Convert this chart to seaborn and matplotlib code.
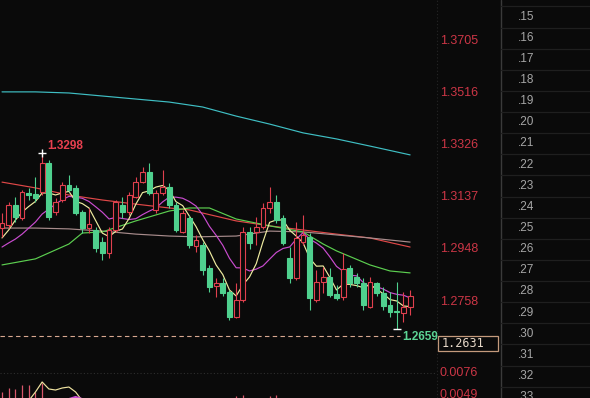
import numpy as np
import pandas as pd
import matplotlib
matplotlib.use("Agg")
import matplotlib.pyplot as plt
import matplotlib.transforms as mtrans
from matplotlib.patches import Rectangle
import seaborn as sns

# ---------------- data ----------------
open_ = [1.3025, 1.3036, 1.3109, 1.3062, 1.3152, 1.3149, 1.3156, 1.3262, 1.3083, 1.3127,
         1.3182, 1.3171, 1.3083, 1.3025, 1.3018, 1.2974, 1.2934, 1.3018, 1.3109, 1.3083,
         1.3138, 1.3192, 1.3229, 1.3091, 1.3152, 1.3174, 1.3109, 1.3011, 1.3062, 1.2960,
         1.2963, 1.2880, 1.2814, 1.2825, 1.2793, 1.2702, 1.2764, 1.3011, 1.3011, 1.3029,
         1.3098, 1.3120, 1.3062, 1.2916, 1.2843, 1.2974, 1.2993, 1.2764, 1.2829, 1.2847,
         1.2785, 1.2774, 1.2880, 1.2847, 1.2825, 1.2738, 1.2825, 1.2789, 1.2745, 1.2724,
         1.2716, 1.2738]
high = [1.3080, 1.3120, 1.3138, 1.3163, 1.3171, 1.3211, 1.3298, 1.3272, 1.3134, 1.3192,
        1.3218, 1.3182, 1.3091, 1.3098, 1.3029, 1.2993, 1.3029, 1.3127, 1.3138, 1.3156,
        1.3211, 1.3247, 1.3262, 1.3163, 1.3236, 1.3189, 1.3120, 1.3091, 1.3072, 1.3000,
        1.2974, 1.2891, 1.2843, 1.2843, 1.2800, 1.2825, 1.3029, 1.3029, 1.3065, 1.3116,
        1.3174, 1.3145, 1.3072, 1.2956, 1.3047, 1.3072, 1.3007, 1.2873, 1.2883, 1.2880,
        1.2818, 1.2934, 1.2891, 1.2862, 1.2843, 1.2847, 1.2829, 1.2811, 1.2793, 1.2829,
        1.2793, 1.2800]
low = [1.2993, 1.3025, 1.3047, 1.3054, 1.3127, 1.3120, 1.3145, 1.3054, 1.3072, 1.3120,
       1.3156, 1.3072, 1.3007, 1.3007, 1.2938, 1.2909, 1.2916, 1.3011, 1.3062, 1.3072,
       1.3134, 1.3189, 1.3145, 1.3080, 1.3145, 1.3098, 1.3011, 1.3007, 1.2953, 1.2938,
       1.2854, 1.2793, 1.2774, 1.2778, 1.2691, 1.2698, 1.2756, 1.2949, 1.2963, 1.3022,
       1.3080, 1.3043, 1.2963, 1.2825, 1.2836, 1.2963, 1.2727, 1.2756, 1.2789, 1.2774,
       1.2764, 1.2764, 1.2811, 1.2811, 1.2727, 1.2734, 1.2778, 1.2727, 1.2702, 1.2659,
       1.2684, 1.2709]
close = [1.3043, 1.3109, 1.3065, 1.3156, 1.3145, 1.3134, 1.3262, 1.3065, 1.3120, 1.3182,
         1.3163, 1.3080, 1.3025, 1.3040, 1.2953, 1.2934, 1.3018, 1.3120, 1.3083, 1.3145,
         1.3192, 1.3229, 1.3152, 1.3152, 1.3174, 1.3109, 1.3018, 1.3080, 1.2963, 1.2982,
         1.2873, 1.2811, 1.2825, 1.2789, 1.2702, 1.2764, 1.3011, 1.2971, 1.3029, 1.3098,
         1.3120, 1.3054, 1.2971, 1.2843, 1.2989, 1.3000, 1.2771, 1.2829, 1.2847, 1.2782,
         1.2771, 1.2876, 1.2825, 1.2825, 1.2745, 1.2829, 1.2789, 1.2742, 1.2720, 1.2720,
         1.2738, 1.2778]

# moving-average start values (window not yet filled on screen)
ma5_head = [1.2989, 1.3018, 1.3054, 1.3083]
ma10_head = [1.2956, 1.2971, 1.2985, 1.3003, 1.3025, 1.3047, 1.3076, 1.3094, 1.3112]

# long moving averages
cyan_idx = [0, 5, 10, 15, 20, 25, 30, 35, 40, 45, 50, 55, 61]
cyan_val = [1.3520, 1.3520, 1.3516, 1.3505, 1.3494, 1.3483, 1.3465, 1.3432, 1.3403,
            1.3371, 1.3349, 1.3323, 1.3291]
red_idx = [0, 5, 10, 15, 20, 25, 28, 35, 40, 45, 50, 55, 61]
red_val = [1.3192, 1.3171, 1.3145, 1.3127, 1.3112, 1.3098, 1.3091, 1.3051, 1.3033,
           1.3018, 1.3003, 1.2989, 1.2956]
pink_idx = [0, 5, 10, 15, 20, 25, 29, 35, 40, 45, 50, 55, 61]
pink_val = [1.3025, 1.3025, 1.3022, 1.3014, 1.3003, 1.2996, 1.2993, 1.2996, 1.3014,
            1.3011, 1.3000, 1.2989, 1.2974]
green_idx = [0, 5, 10, 12, 15, 20, 25, 28, 31, 35, 40, 45, 48, 50, 55, 58, 61]
green_val = [1.2891, 1.2913, 1.2967, 1.3007, 1.3011, 1.3051, 1.3087, 1.3098, 1.3098,
             1.3058, 1.3033, 1.3011, 1.2967, 1.2942, 1.2891, 1.2869, 1.2862]

price_ticks = [1.3705, 1.3516, 1.3326, 1.3137, 1.2948, 1.2758]
current_price = 1.2631

# lower indicator panel
ind_bar_idx = [0, 1, 2, 3, 4, 5, 6, 35, 36, 40, 41]
ind_bar_val = [0.00527, 0.00576, 0.00564, 0.00613, 0.00613, 0.00527, 0.00637,
               0.00480, 0.00490, 0.00480, 0.00485]
ind_yel_idx = [4, 5, 6, 7, 8, 9, 10, 11, 12]
ind_yel_val = [0.00420, 0.00527, 0.00650, 0.00564, 0.00551, 0.00576, 0.00588, 0.00527, 0.00420]
ind_mag_idx = [10, 11, 12]
ind_mag_val = [0.00440, 0.00466, 0.00440]
ind_ticks = [0.0076, 0.0049]

row_labels = [".15", ".16", ".17", ".18", ".19", ".20", ".21", ".22", ".23", ".24",
              ".25", ".26", ".27", ".28", ".29", ".30", ".31", ".32", ".33"]

# ---------------- style ----------------
BG = "#0a0a0a"
UP = "#e0404e"
DOWN = "#4fd08e"
sns.set_theme(style="dark", rc={"axes.facecolor": BG, "figure.facecolor": BG,
                                "savefig.facecolor": BG})
plt.rcParams["font.family"] = ["Liberation Sans", "DejaVu Sans"]

W, H = 590, 398
PP = 0.0003635          # price per pixel in main panel
TOP = 1.3854            # price at top edge
MAIN_H = 355
fig = plt.figure(figsize=(W / 100, H / 100), dpi=100)
ax = fig.add_axes([0, (H - MAIN_H) / H, 436 / W, MAIN_H / H])
ax_i = fig.add_axes([0, 0, 436 / W, (H - MAIN_H) / H])
for a in (ax, ax_i):
    a.set_axis_off()
ax.set_xlim(-0.3, 64.87)
ax.set_ylim(TOP - PP * MAIN_H, TOP)
ax_i.set_xlim(-0.3, 64.87)
ax_i.set_ylim(0.0076 - 25 * 0.0001227, 0.0076 + 18 * 0.0001227)

df = pd.DataFrame({"o": open_, "h": high, "l": low, "c": close})
df["i"] = np.arange(len(df))
df["up"] = df["c"] >= df["o"]

# moving averages
ma5 = df["c"].rolling(5).mean().to_numpy()
ma5[:len(ma5_head)] = ma5_head
ma10 = df["c"].rolling(10).mean().to_numpy()
ma10[:len(ma10_head)] = ma10_head

lw = 0.85
sns.lineplot(x=cyan_idx, y=cyan_val, ax=ax, color="#3fbfc4", lw=lw, estimator=None)
sns.lineplot(x=red_idx, y=red_val, ax=ax, color="#e04848", lw=lw, estimator=None)
sns.lineplot(x=pink_idx, y=pink_val, ax=ax, color="#a88c8c", lw=lw, estimator=None)
sns.lineplot(x=green_idx, y=green_val, ax=ax, color="#5ccf50", lw=lw, estimator=None)
sns.lineplot(x=df["i"], y=ma10, ax=ax, color="#c94ccf", lw=lw, estimator=None)
sns.lineplot(x=df["i"], y=ma5, ax=ax, color="#efeca0", lw=lw, estimator=None)

# candles
colors = np.where(df["up"], UP, DOWN)
ax.vlines(df["i"], df["l"], df["h"], colors=colors, lw=0.8, zorder=3)
bottoms = np.minimum(df["o"], df["c"])
heights = np.maximum(np.abs(df["c"] - df["o"]), 0.0003)
faces = np.where(df["up"], BG, DOWN)
ax.bar(df["i"], heights, bottom=bottoms, width=0.72, color=faces,
       edgecolor=colors, linewidth=0.8, zorder=4)

# high / low markers
i_hi = int(np.argmax(high))
i_lo = int(np.argmin(low))
ax.plot(i_hi, high[i_hi], marker="+", color="white", ms=6, mew=1, zorder=6)
ax.annotate(f"{high[i_hi]:.4f}", (i_hi, high[i_hi]), xytext=(3.6, 5),
            textcoords="offset points", color="#e8404f", fontsize=8.5,
            fontweight="bold", va="center", ha="left")
ax.plot(i_lo, low[i_lo], marker="_", color="white", ms=6, mew=1, zorder=6)

# current price line and box
ax.axhline(current_price, xmin=0, xmax=400 / 436, color="#d8a890", lw=0.8,
           ls=(0, (4, 3)), zorder=2)
ax.annotate(f"{low[i_lo]:.4f}", (i_lo, low[i_lo]), xytext=(4.3, -5.8),
            textcoords="offset points", color="#5cd494", fontsize=8.5,
            fontweight="bold", va="center", ha="left", zorder=7)
trans = mtrans.blended_transform_factory(fig.transFigure, ax.transData)
ax.add_patch(Rectangle((438 / W, current_price - 15 * PP), 60 / W, 15 * PP,
                       transform=trans, facecolor=BG, edgecolor="#c49a7c",
                       lw=0.9, clip_on=False, zorder=8))
ax.text(442 / W, current_price - 7.5 * PP, f"{current_price:.4f}", transform=trans,
        color="#e6d8c8", fontsize=8.5, family="DejaVu Sans Mono", va="center",
        ha="left", clip_on=False, zorder=9)

# price labels
for v in price_ticks:
    ax.text(440 / W, v, f"{v:.4f}", transform=trans, color="#cc3646", fontsize=9,
            va="center", ha="left", clip_on=False)

# indicator panel
ax_i.axhline(ind_ticks[0], color="#2e2e2e", lw=0.8, ls=(0, (1, 2)))
ax_i.vlines(ind_bar_idx, 0, ind_bar_val, colors="#d8566a", lw=0.9)
sns.lineplot(x=ind_yel_idx, y=ind_yel_val, ax=ax_i, color="#efe3a0", lw=lw, estimator=None)
sns.lineplot(x=ind_mag_idx, y=ind_mag_val, ax=ax_i, color="#c94ccf", lw=1.5, estimator=None)
trans_i = mtrans.blended_transform_factory(fig.transFigure, ax_i.transData)
for v in ind_ticks:
    ax_i.text(440 / W, v, f"{v:.4f}", transform=trans_i, color="#cc3646", fontsize=9,
              va="center", ha="left", clip_on=False)

# right-side table overlay
ax_o = fig.add_axes([0, 0, 1, 1])
ax_o.set_axis_off()
ax_o.patch.set_alpha(0)
ax_o.set_xlim(0, W)
ax_o.set_ylim(H, 0)
ax_o.axvline(437, color="#262626", lw=0.8, ls=(0, (1, 2)))
ax_o.axvline(500.5, color="#3a3a3a", lw=1.0)
for k, lab in enumerate(row_labels):
    yc = 16.7 + 21.13 * k
    ax_o.plot([501, W], [yc - 10.3, yc - 10.3], color="#1f1f1f", lw=0.9)
    ax_o.text(518, yc, lab, color="#a6a6a6", fontsize=8.5, va="center", ha="left")

fig.savefig("out.png", dpi=100, facecolor=BG)
